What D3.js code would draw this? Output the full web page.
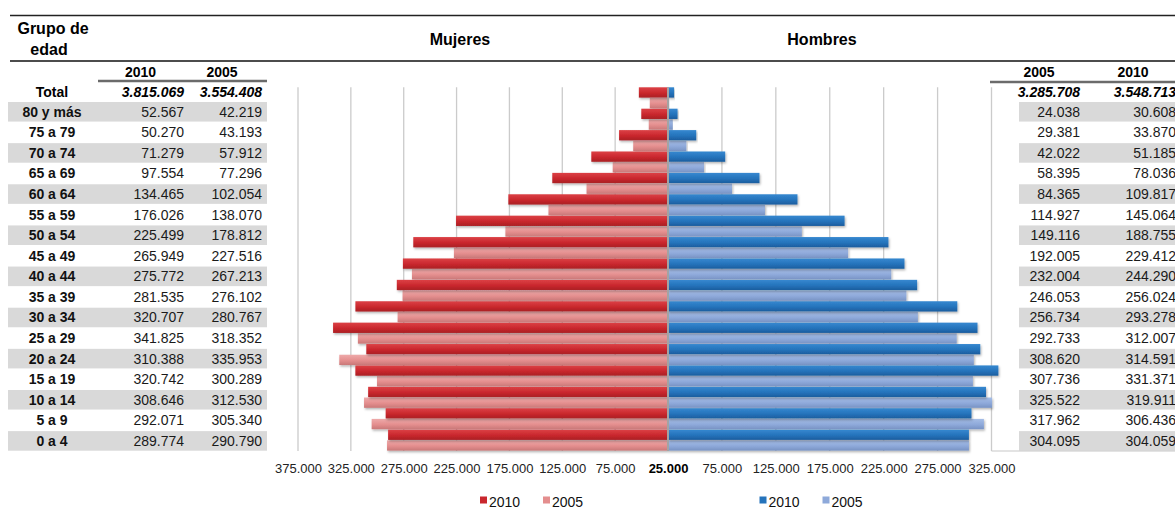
<!DOCTYPE html>
<html>
<head>
<meta charset="utf-8">
<script src="https://cdn.jsdelivr.net/npm/d3@7"></script>
<style>
  body { margin: 0; background: #fff; }
  svg { font-family: Arial, "Liberation Sans", sans-serif; }
</style>
</head>
<body>
<div class="pyramid"></div>
<script>
// age groups, oldest first (same order as the table)
const groups = ["80 y más", "75 a 79", "70 a 74", "65 a 69", "60 a 64", "55 a 59", "50 a 54",
  "45 a 49", "40 a 44", "35 a 39", "30 a 34", "25 a 29", "20 a 24", "15 a 19", "10 a 14", "5 a 9", "0 a 4"];

const mujeres2010 = [52567, 50270, 71279, 97554, 134465, 176026, 225499, 265949, 275772, 281535,
  320707, 341825, 310388, 320742, 308646, 292071, 289774];
const mujeres2005 = [42219, 43193, 57912, 77296, 102054, 138070, 178812, 227516, 267213, 276102,
  280767, 318352, 335953, 300289, 312530, 305340, 290790];
const hombres2010 = [30608, 33870, 51185, 78036, 109817, 145064, 188755, 229412, 244290, 256024,
  293278, 312007, 314591, 331371, 319911, 306436, 304059];
const hombres2005 = [24038, 29381, 42022, 58395, 84365, 114927, 149116, 192005, 232004, 246053,
  256734, 292733, 308620, 307736, 325522, 317962, 304095];

const totalMujeres = { "2010": 3815069, "2005": 3554408 };
const totalHombres = { "2005": 3285708, "2010": 3548713 };

// axis ticks (both axes start at 25.000 in the middle)
const ticksMujeres = [75000, 125000, 175000, 225000, 275000, 325000, 375000];
const ticksHombres = [75000, 125000, 175000, 225000, 275000, 325000];
const axisMin = 25000;

const years = ["2010", "2005"];

const width = 1175, height = 523;
const center = 668;
const plotTop = 87.3, plotBottom = 451;

const colors = {
  m2010: ["#dc4146", "#c9272d", "#aa1f24"],
  m2005: ["#eeaaaa", "#e48e8e", "#c97878"],
  h2010: ["#3688d0", "#2573bb", "#1c5d9e"],
  h2005: ["#a5bde6", "#8ea9da", "#7893c4"]
};

const loc = d3.formatLocale({ decimal: ",", thousands: ".", grouping: [3], currency: ["", ""] });
const fmt = loc.format(",d");

const svg = d3.select(".pyramid")
  .append("svg")
  .attr("width", width)
  .attr("height", height);

// gradients for the bars
const defs = svg.append("defs");
Object.keys(colors).forEach(function(k) {
  const g = defs.append("linearGradient")
    .attr("id", "grad_" + k)
    .attr("x1", 0).attr("y1", 0).attr("x2", 0).attr("y2", 1);
  g.append("stop").attr("offset", "0%").attr("stop-color", colors[k][0]);
  g.append("stop").attr("offset", "55%").attr("stop-color", colors[k][1]);
  g.append("stop").attr("offset", "100%").attr("stop-color", colors[k][2]);
});
defs.append("filter").attr("id", "shadow")
  .attr("x", "-5%").attr("y", "-30%").attr("width", "110%").attr("height", "170%")
  .append("feDropShadow")
  .attr("dx", 1).attr("dy", 1.5).attr("stdDeviation", 0.8)
  .attr("flood-color", "#000").attr("flood-opacity", 0.3);

/* SCALES */
const xL = d3.scaleLinear().domain([axisMin, 375000]).range([center, 298]);
const xR = d3.scaleLinear().domain([axisMin, 325000]).range([center, 991.5]);

const yGroup = d3.scaleBand().domain(groups).range([plotTop, plotBottom]).padding(0);
const yYear = d3.scaleBand().domain(years).range([0, yGroup.bandwidth()]).padding(0);

// table rows
const yRow = d3.scaleBand().domain(groups).range([102, 451.7]).padding(0);

/* HEADER LINES + TITLES */
svg.append("line")
  .attr("x1", 10).attr("x2", width).attr("y1", 15.5).attr("y2", 15.5)
  .attr("stroke", "#222").attr("stroke-width", 1.3);
svg.append("line")
  .attr("x1", 10).attr("x2", width).attr("y1", 61).attr("y2", 61)
  .attr("stroke", "#111").attr("stroke-width", 1.5);

svg.append("text").attr("x", 53).attr("y", 34)
  .attr("text-anchor", "middle").attr("font-size", 16).attr("font-weight", "bold")
  .text("Grupo de");
svg.append("text").attr("x", 49).attr("y", 55)
  .attr("text-anchor", "middle").attr("font-size", 16).attr("font-weight", "bold")
  .text("edad");

svg.append("text").attr("x", 460).attr("y", 45)
  .attr("text-anchor", "middle").attr("font-size", 16).attr("font-weight", "bold")
  .text("Mujeres");
svg.append("text").attr("x", 822).attr("y", 45)
  .attr("text-anchor", "middle").attr("font-size", 16).attr("font-weight", "bold")
  .text("Hombres");

/* LEFT TABLE */
const left = svg.append("g").attr("class", "table_left");

left.selectAll("rect.shade")
  .data(groups.filter(function(d, i) { return i % 2 === 0; }))
  .enter()
  .append("rect")
  .attr("class", "shade")
  .attr("x", 8)
  .attr("y", function(d) { return yRow(d); })
  .attr("width", 259)
  .attr("height", yRow.bandwidth() - 1)
  .attr("fill", "#d9d9d9");

left.append("line")
  .attr("x1", 98).attr("x2", 267).attr("y1", 81).attr("y2", 81)
  .attr("stroke", "#6b6b6b").attr("stroke-width", 2.5);

left.append("text").attr("x", 140.5).attr("y", 77)
  .attr("text-anchor", "middle").attr("font-size", 14).attr("font-weight", "bold").text("2010");
left.append("text").attr("x", 222).attr("y", 77)
  .attr("text-anchor", "middle").attr("font-size", 14).attr("font-weight", "bold").text("2005");

left.append("text").attr("x", 52).attr("y", 96.7)
  .attr("text-anchor", "middle").attr("font-size", 14).attr("font-weight", "bold").text("Total");
left.append("text").attr("x", 184).attr("y", 96.7)
  .attr("text-anchor", "end").attr("font-size", 14).attr("font-weight", "bold")
  .attr("font-style", "italic").text(fmt(totalMujeres["2010"]));
left.append("text").attr("x", 262).attr("y", 96.7)
  .attr("text-anchor", "end").attr("font-size", 14).attr("font-weight", "bold")
  .attr("font-style", "italic").text(fmt(totalMujeres["2005"]));

left.selectAll("text.label")
  .data(groups)
  .enter()
  .append("text")
  .attr("class", "label")
  .attr("x", 52)
  .attr("y", function(d) { return yRow(d) + yRow.bandwidth() / 2 - 0.5; })
  .attr("dy", "0.35em")
  .attr("text-anchor", "middle")
  .attr("font-size", 14)
  .attr("font-weight", "bold")
  .attr("fill", "#111")
  .text(function(d) { return d; });

left.selectAll("text.v2010")
  .data(mujeres2010)
  .enter()
  .append("text")
  .attr("class", "v2010")
  .attr("x", 184)
  .attr("y", function(d, i) { return yRow(groups[i]) + yRow.bandwidth() / 2 - 0.5; })
  .attr("dy", "0.35em")
  .attr("text-anchor", "end")
  .attr("font-size", 14)
  .attr("fill", "#1a1a1a")
  .text(function(d) { return fmt(d); });

left.selectAll("text.v2005")
  .data(mujeres2005)
  .enter()
  .append("text")
  .attr("class", "v2005")
  .attr("x", 262)
  .attr("y", function(d, i) { return yRow(groups[i]) + yRow.bandwidth() / 2 - 0.5; })
  .attr("dy", "0.35em")
  .attr("text-anchor", "end")
  .attr("font-size", 14)
  .attr("fill", "#1a1a1a")
  .text(function(d) { return fmt(d); });

/* RIGHT TABLE */
const right = svg.append("g").attr("class", "table_right");

right.selectAll("rect.shade")
  .data(groups.filter(function(d, i) { return i % 2 === 0; }))
  .enter()
  .append("rect")
  .attr("class", "shade")
  .attr("x", 1019)
  .attr("y", function(d) { return yRow(d); })
  .attr("width", width - 1019)
  .attr("height", yRow.bandwidth() - 1)
  .attr("fill", "#d9d9d9");

right.append("line")
  .attr("x1", 990).attr("x2", width).attr("y1", 82).attr("y2", 82)
  .attr("stroke", "#6b6b6b").attr("stroke-width", 2.5);
right.append("line")
  .attr("x1", 991.5).attr("x2", width).attr("y1", 451).attr("y2", 451)
  .attr("stroke", "#c8c8c8").attr("stroke-width", 1.2);

right.append("text").attr("x", 1039).attr("y", 77)
  .attr("text-anchor", "middle").attr("font-size", 14).attr("font-weight", "bold").text("2005");
right.append("text").attr("x", 1133).attr("y", 77)
  .attr("text-anchor", "middle").attr("font-size", 14).attr("font-weight", "bold").text("2010");

right.append("text").attr("x", 1080).attr("y", 96.7)
  .attr("text-anchor", "end").attr("font-size", 14).attr("font-weight", "bold")
  .attr("font-style", "italic").text(fmt(totalHombres["2005"]));
right.append("text").attr("x", 1176).attr("y", 96.7)
  .attr("text-anchor", "end").attr("font-size", 14).attr("font-weight", "bold")
  .attr("font-style", "italic").text(fmt(totalHombres["2010"]));

right.selectAll("text.v2005")
  .data(hombres2005)
  .enter()
  .append("text")
  .attr("class", "v2005")
  .attr("x", 1080)
  .attr("y", function(d, i) { return yRow(groups[i]) + yRow.bandwidth() / 2 - 0.5; })
  .attr("dy", "0.35em")
  .attr("text-anchor", "end")
  .attr("font-size", 14)
  .attr("fill", "#1a1a1a")
  .text(function(d) { return fmt(d); });

right.selectAll("text.v2010")
  .data(hombres2010)
  .enter()
  .append("text")
  .attr("class", "v2010")
  .attr("x", 1176)
  .attr("y", function(d, i) { return yRow(groups[i]) + yRow.bandwidth() / 2 - 0.5; })
  .attr("dy", "0.35em")
  .attr("text-anchor", "end")
  .attr("font-size", 14)
  .attr("fill", "#1a1a1a")
  .text(function(d) { return fmt(d); });

/* GRIDLINES */
const grid = svg.append("g").attr("class", "grid");
grid.selectAll("line.gl")
  .data(ticksMujeres)
  .enter()
  .append("line")
  .attr("class", "gl")
  .attr("x1", function(d) { return xL(d); })
  .attr("x2", function(d) { return xL(d); })
  .attr("y1", plotTop).attr("y2", plotBottom)
  .attr("stroke", "#cbcbcb").attr("stroke-width", 1.3);
grid.selectAll("line.gr")
  .data(ticksHombres)
  .enter()
  .append("line")
  .attr("class", "gr")
  .attr("x1", function(d) { return xR(d); })
  .attr("x2", function(d) { return xR(d); })
  .attr("y1", plotTop).attr("y2", plotBottom)
  .attr("stroke", "#cbcbcb").attr("stroke-width", 1.3);

/* BARS */
function drawBars(cls, values, year, scale, gradKey, side) {
  svg.selectAll("rect." + cls)
    .data(values)
    .enter()
    .append("rect")
    .attr("class", cls)
    .attr("x", function(d) { return side === "left" ? scale(d) : scale(axisMin); })
    .attr("y", function(d, i) { return yGroup(groups[i]) + yYear(year); })
    .attr("width", function(d) { return Math.abs(scale(d) - scale(axisMin)); })
    .attr("height", yYear.bandwidth() - 0.4)
    .attr("fill", "url(#grad_" + gradKey + ")")
    .attr("filter", "url(#shadow)");
}

drawBars("m2005", mujeres2005, "2005", xL, "m2005", "left");
drawBars("m2010", mujeres2010, "2010", xL, "m2010", "left");
drawBars("h2005", hombres2005, "2005", xR, "h2005", "right");
drawBars("h2010", hombres2010, "2010", xR, "h2010", "right");

// central axis line
svg.append("line")
  .attr("x1", center).attr("x2", center)
  .attr("y1", plotTop).attr("y2", plotBottom)
  .attr("stroke", "#a3a3a3").attr("stroke-width", 2);

/* AXES */
const axisY = 462;
const axL = svg.append("g")
  .attr("class", "x_axis")
  .attr("transform", "translate(0," + axisY + ")")
  .call(d3.axisBottom(xL).tickValues(ticksMujeres).tickSize(0).tickPadding(2).tickFormat(fmt));
const axR = svg.append("g")
  .attr("class", "x_axis")
  .attr("transform", "translate(0," + axisY + ")")
  .call(d3.axisBottom(xR).tickValues(ticksHombres).tickSize(0).tickPadding(2).tickFormat(fmt));
const axC = svg.append("g")
  .attr("class", "x_axis")
  .attr("transform", "translate(0," + axisY + ")")
  .call(d3.axisBottom(xR).tickValues([axisMin]).tickSize(0).tickPadding(2).tickFormat(fmt));

svg.selectAll(".x_axis .domain").remove();
svg.selectAll(".x_axis text")
  .attr("font-family", "Arial, 'Liberation Sans', sans-serif")
  .attr("font-size", 13)
  .attr("fill", "#222");
axC.selectAll("text").attr("font-weight", "bold").attr("fill", "#000");

/* LEGENDS */
function legend(items, x0) {
  const g = svg.append("g").attr("transform", "translate(" + x0 + ",0)");
  const item = g.selectAll("g")
    .data(items)
    .enter()
    .append("g")
    .attr("transform", function(d, i) { return "translate(" + (i * 63) + ",0)"; });
  item.append("rect")
    .attr("x", 0).attr("y", 496.5)
    .attr("width", 7).attr("height", 7)
    .attr("fill", function(d) { return colors[d.key][1]; });
  item.append("text")
    .attr("x", 9).attr("y", 507)
    .attr("font-size", 14)
    .attr("fill", "#111")
    .text(function(d) { return d.label; });
}
legend([{ key: "m2010", label: "2010" }, { key: "m2005", label: "2005" }], 480);
legend([{ key: "h2010", label: "2010" }, { key: "h2005", label: "2005" }], 759.5);
</script>
</body>
</html>
